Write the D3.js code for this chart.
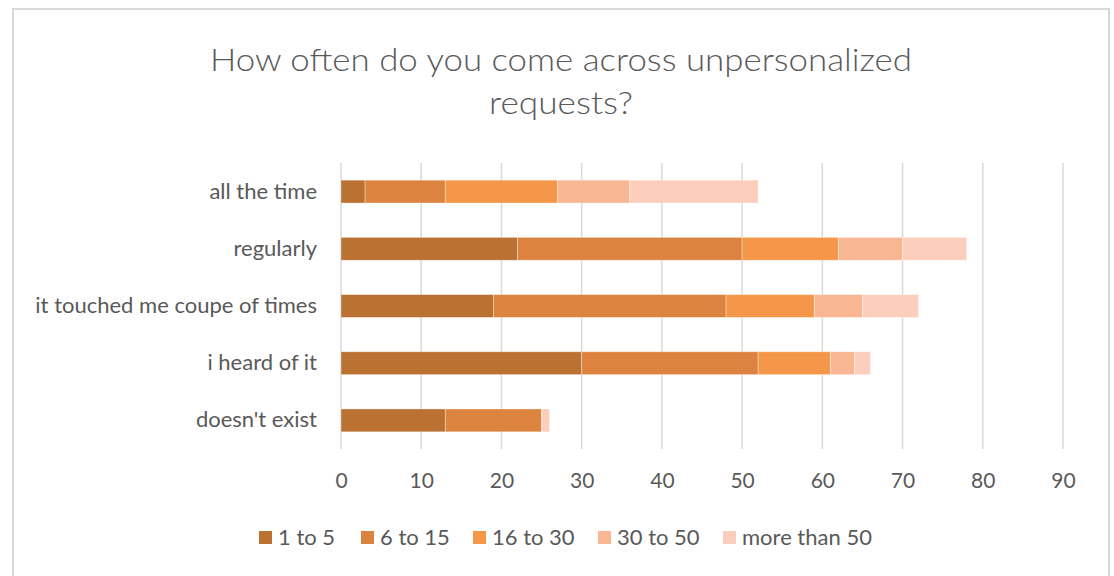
<!DOCTYPE html>
<html>
<head>
<meta charset="utf-8">
<script src="https://cdn.jsdelivr.net/npm/d3@7/dist/d3.min.js"></script>
<style>
  html, body { margin: 0; padding: 0; background: #fff; }
  svg { display: block; }
</style>
</head>
<body>
<svg id="chart" width="1114" height="576"></svg>
<script>
// Survey answers (rows) and response-count buckets (stacked series)
const categories = ["all the time", "regularly", "it touched me coupe of times", "i heard of it", "doesn't exist"];
const seriesNames = ["1 to 5", "6 to 15", "16 to 30", "30 to 50", "more than 50"];
const seriesColors = ["#BA7132", "#DC843F", "#F59748", "#F8B692", "#FBCFBB"];

const s1to5      = [3, 22, 19, 30, 13];
const s6to15     = [10, 28, 29, 22, 12];
const s16to30    = [14, 12, 11, 9, 0];
const s30to50    = [9, 8, 6, 3, 0];
const sMoreThan50 = [16, 8, 7, 2, 1];

const xTicks = [0, 10, 20, 30, 40, 50, 60, 70, 80, 90];
const titleLines = ["How often do you come across unpersonalized", "requests?"];

const seriesValues = [s1to5, s6to15, s16to30, s30to50, sMoreThan50];
const rows = categories.map((c, i) => {
  const r = { category: c };
  seriesNames.forEach((s, j) => { r[s] = seriesValues[j][i]; });
  return r;
});

const svg = d3.select("#chart");
const textColor = "#595959";
const font = "Lato, 'Open Sans', sans-serif";

// Chart frame
svg.append("rect")
  .attr("x", 13).attr("y", 9)
  .attr("width", 1096).attr("height", 580)
  .attr("fill", "#fff")
  .attr("stroke", "#D9D9D9").attr("stroke-width", 2);

// Title (two centred lines, condensed to the frame's title width)
const titleWidths = [702, 144];
svg.append("g").selectAll("text")
  .data(titleLines)
  .join("text")
  .attr("x", 561)
  .attr("y", (d, i) => 71 + i * 43)
  .attr("text-anchor", "middle")
  .attr("fill", textColor)
  .attr("font-family", font)
  .attr("font-weight", 300)
  .attr("font-size", 32)
  .attr("textLength", (d, i) => titleWidths[i])
  .attr("lengthAdjust", "spacingAndGlyphs")
  .text(d => d);

const plot = { left: 341, right: 1063, top: 163, bottom: 449 };

const x = d3.scaleLinear().domain([0, 90]).range([plot.left, plot.right]);
const y = d3.scaleBand().domain(categories)
  .range([plot.top, plot.bottom])
  .paddingInner(0.6).paddingOuter(0.3);

// Vertical gridlines
svg.append("g").selectAll("line")
  .data(xTicks)
  .join("line")
  .attr("x1", d => x(d)).attr("x2", d => x(d))
  .attr("y1", plot.top).attr("y2", plot.bottom)
  .attr("stroke", "#D9D9D9").attr("stroke-width", 1.5);

// Stacked bars
const stack = d3.stack().keys(seriesNames);
const layers = stack(rows);
const color = d3.scaleOrdinal().domain(seriesNames).range(seriesColors);

svg.append("g").selectAll("g")
  .data(layers)
  .join("g")
  .attr("fill", d => color(d.key))
  .selectAll("rect")
  .data(d => d.filter(p => p[1] - p[0] > 0))
  .join("rect")
  .attr("x", d => x(d[0]))
  .attr("y", d => y(d.data.category))
  .attr("width", d => x(d[1]) - x(d[0]))
  .attr("height", y.bandwidth())
  .attr("stroke", "rgba(255,255,255,0.45)")
  .attr("stroke-width", 0.8);

// Category axis labels
const yAxis = d3.axisLeft(y).tickSize(0).tickPadding(0);
const gy = svg.append("g")
  .attr("transform", `translate(${317},0)`)
  .call(yAxis);
gy.select(".domain").remove();
gy.selectAll("text")
  .attr("fill", textColor)
  .attr("font-family", font)
  .attr("font-size", 22);

// Value axis labels
const xAxis = d3.axisBottom(x).tickValues(xTicks).tickSize(0).tickPadding(0);
const gx = svg.append("g")
  .attr("transform", `translate(0,${plot.bottom})`)
  .call(xAxis);
gx.select(".domain").remove();
gx.selectAll("text")
  .attr("dy", null)
  .attr("y", 39)
  .attr("fill", textColor)
  .attr("font-family", font)
  .attr("font-size", 21);

// Legend
const legendX = [259, 361, 473, 598, 723];
const legend = svg.append("g").selectAll("g")
  .data(seriesNames)
  .join("g")
  .attr("transform", (d, i) => `translate(${legendX[i]},531)`);
legend.append("rect")
  .attr("width", 13).attr("height", 13)
  .attr("fill", d => color(d));
legend.append("text")
  .attr("x", 19).attr("y", 14)
  .attr("fill", textColor)
  .attr("font-family", font)
  .attr("font-size", 22)
  .text(d => d);
</script>
</body>
</html>
